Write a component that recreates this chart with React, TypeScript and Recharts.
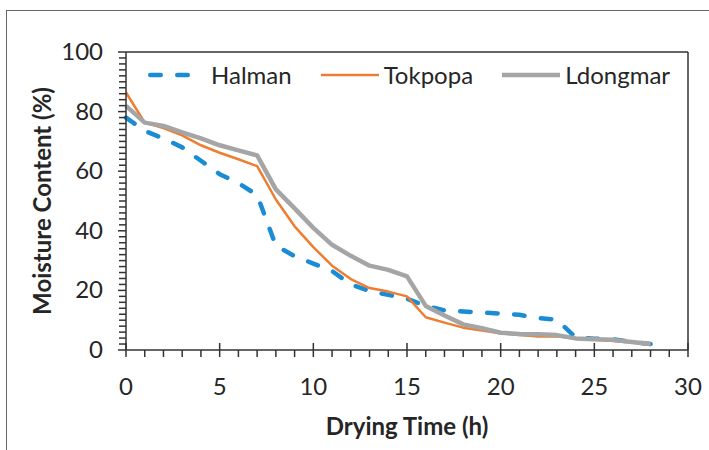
import { LineChart, Line, XAxis, YAxis, ReferenceLine, Legend, Label } from "recharts";

// drying time in hours
const hours = [0, 1, 2, 3, 4, 5, 6, 7, 8, 9, 10, 11, 12, 13, 14, 15, 16, 17, 18, 19, 20, 21, 22, 23, 24, 25, 26, 27, 28];

// moisture content (%)
const halman = [78, 73.5, 71, 68, 63.5, 59, 56, 52, 35, 31.5, 29, 26.5, 22, 19.8, 18.5, 17.2, 14.8, 13.3, 12.9, 12.6, 12.2, 11.8, 10.7, 10.2, 4.2, 3.8, 3.6, 2.7, 2];
const tokpopa = [86.4, 76.3, 74.5, 72, 68.7, 66.2, 64, 61.7, 50.5, 41.5, 34.5, 28.3, 23.8, 20.8, 19.6, 18, 11, 9.2, 7.5, 6.5, 5.6, 5, 4.5, 4.6, 3.8, 3.4, 3, 2.5, 1.8];
const ldongmar = [81.9, 76.3, 75.2, 73, 71, 68.7, 67, 65.3, 53.9, 47.5, 41, 35.3, 31.6, 28.3, 26.9, 24.7, 14.8, 11.6, 8.6, 7.3, 5.8, 5.4, 5.3, 5, 3.9, 3.6, 3.4, 2.7, 2];

// axis ticks (majors get labels, the rest are minor marks)
const xTicks = Array.from({ length: 31 }, (_, i) => i);
const yTicks = Array.from({ length: 51 }, (_, i) => i * 2);

const data = hours.map((h, i) => ({
  h,
  halman: halman[i],
  tokpopa: tokpopa[i],
  ldongmar: ldongmar[i],
}));

const SERIES = [
  { key: "halman", name: "Halman", color: "#1A8CD6", width: 4.5, dash: "10.5 16.5" },
  { key: "tokpopa", name: "Tokpopa", color: "#ED7D31", width: 2.5, dash: undefined },
  { key: "ldongmar", name: "Ldongmar", color: "#A5A5A5", width: 4.5, dash: undefined },
];

const AXIS = "#333";
const TEXT = "#262626";
const FONT = "Lato, 'Open Sans', sans-serif";

function XTick({ x, y, payload }: any) {
  const major = payload.value % 5 === 0;
  return (
    <g>
      <line x1={x} x2={x} y1={major ? y - 7 : y} y2={y + 7} stroke={AXIS} strokeWidth={1.5} />
      {major && (
        <text x={x} y={y + 45} textAnchor="middle" fontSize={24} fill={TEXT} fontFamily={FONT}>
          {payload.value}
        </text>
      )}
    </g>
  );
}

function YTick({ x, y, payload }: any) {
  const major = payload.value % 20 === 0;
  return (
    <g>
      <line x1={x - (major ? 8 : 7)} x2={x} y1={y} y2={y} stroke={AXIS} strokeWidth={1.5} />
      {major && (
        <text x={x - 23} y={y + 8} textAnchor="end" fontSize={24} fill={TEXT} fontFamily={FONT}>
          {payload.value}
        </text>
      )}
    </g>
  );
}

function LegendBox() {
  return (
    <div style={{ display: "flex", alignItems: "center", fontFamily: FONT }}>
      {SERIES.map((s) => (
        <div key={s.key} style={{ display: "flex", alignItems: "center", marginRight: 29 }}>
          <svg width={60} height={24}>
            {s.dash ? (
              <line x1={2.25} x2={42} y1={12} y2={12} stroke={s.color} strokeWidth={s.width}
                strokeDasharray={s.dash} strokeLinecap="round" />
            ) : (
              <line x1={0} x2={58} y1={12} y2={12} stroke={s.color} strokeWidth={s.width} />
            )}
          </svg>
          <span style={{ fontSize: 24, lineHeight: "30px", marginLeft: 3, color: TEXT }}>{s.name}</span>
        </div>
      ))}
    </div>
  );
}

export default function App() {
  return (
    <div style={{ position: "fixed", left: 0, top: 0, width: 709, height: 450, overflow: "hidden", background: "#fff" }}>
      <div style={{ position: "absolute", left: 6, top: 10, width: 760, height: 500, border: "1.5px solid #666" }} />
      <div style={{ position: "absolute", left: 0, top: 0 }}>
        <LineChart width={709} height={450} data={data} margin={{ top: 52, right: 21, left: 0, bottom: 0 }}
          style={{ fontFamily: FONT }}>
          <XAxis dataKey="h" type="number" domain={[0, 30]} ticks={xTicks} interval={0} height={100}
            tickSize={0} tickMargin={0} tickLine={false} tick={<XTick />}
            axisLine={{ stroke: AXIS, strokeWidth: 1.5 }}>
            <Label value="Drying Time (h)" position="insideBottom" offset={15}
              style={{ fontSize: 24, fontWeight: 700, fill: TEXT, fontFamily: FONT }} />
          </XAxis>
          <YAxis type="number" domain={[0, 100]} ticks={yTicks} interval={0} width={126}
            tickSize={0} tickMargin={0} tickLine={false} tick={<YTick />}
            axisLine={{ stroke: AXIS, strokeWidth: 1.5 }}>
            <Label value="Moisture Content (%)" angle={-90} position="insideLeft" offset={42}
              style={{ fontSize: 24, fontWeight: 700, fill: TEXT, fontFamily: FONT, textAnchor: "middle" }} />
          </YAxis>
          <ReferenceLine y={100} stroke={AXIS} strokeWidth={1.5} />
          <ReferenceLine x={30} stroke={AXIS} strokeWidth={1.5} />
          <Legend layout="horizontal" verticalAlign="middle" align="center" content={<LegendBox />}
            wrapperStyle={{ position: "absolute", left: 148, top: 60, width: 560, height: 30 }} />
          {SERIES.map((s) => (
            <Line key={s.key} type="linear" dataKey={s.key} name={s.name} stroke={s.color}
              strokeWidth={s.width} strokeDasharray={s.dash} strokeLinecap={s.dash ? "round" : "butt"}
              strokeLinejoin="round" dot={false} activeDot={false} isAnimationActive={false} />
          ))}
        </LineChart>
      </div>
    </div>
  );
}
